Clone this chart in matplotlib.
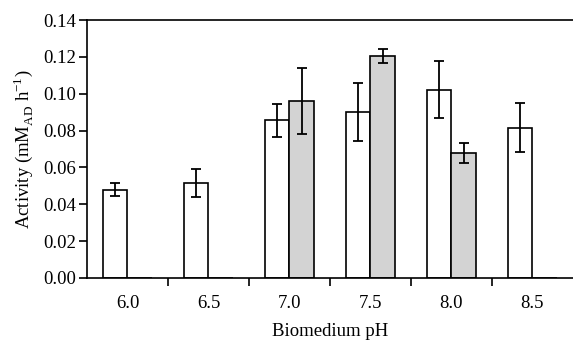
import matplotlib
matplotlib.use("Agg")
import matplotlib.pyplot as plt
import numpy as np

plt.rcParams['font.family'] = 'Liberation Serif'
plt.rcParams['mathtext.fontset'] = 'custom'
plt.rcParams['mathtext.rm'] = 'Liberation Serif'

# pH values and activities (white = series 1, grey = series 2)
ph_labels = ['6.0', '6.5', '7.0', '7.5', '8.0', '8.5']
white_vals = [0.048, 0.0517, 0.0856, 0.0901, 0.1022, 0.0816]
white_err = [0.0033, 0.0075, 0.0090, 0.0155, 0.0155, 0.0133]
grey_vals = [0.0, 0.0, 0.0959, 0.1205, 0.0680, 0.0]
grey_err = [0.0, 0.0, 0.0180, 0.0040, 0.0055, 0.0]

fs = 13.5
x = np.arange(len(ph_labels))
w = 0.3

fig = plt.figure(figsize=(5.73, 3.41), dpi=100)
ax = fig.add_axes([0.1518, 0.1848, 0.8482, 0.7565])

ax.bar(x - w / 2, white_vals, w, color='white', edgecolor='black', linewidth=1.2, zorder=2)
ax.bar(x + w / 2, grey_vals, w, color='#d3d3d3', edgecolor='black', linewidth=1.2, zorder=2)

# error bars only where there is a value
wi = [i for i in range(len(x)) if white_vals[i] > 0]
gi = [i for i in range(len(x)) if grey_vals[i] > 0]
ax.errorbar(x[wi] - w / 2, [white_vals[i] for i in wi], yerr=[white_err[i] for i in wi],
            fmt='none', ecolor='black', elinewidth=1.3, capsize=3.5, capthick=1.3, zorder=3)
ax.errorbar(x[gi] + w / 2, [grey_vals[i] for i in gi], yerr=[grey_err[i] for i in gi],
            fmt='none', ecolor='black', elinewidth=1.3, capsize=3.5, capthick=1.3, zorder=3)

ax.set_xlim(-0.5, 5.5)
ax.set_ylim(0, 0.14)
ax.set_yticks(np.arange(0, 0.141, 0.02))
ax.set_yticklabels(['%.2f' % v for v in np.arange(0, 0.141, 0.02)], fontsize=fs)

# tick marks between categories, labels at the centres
ax.set_xticks(np.arange(0.5, 5, 1))
ax.set_xticklabels([])
ax.set_xticks(x, minor=True)
ax.set_xticklabels(ph_labels, minor=True, fontsize=fs)
ax.tick_params(axis='x', which='minor', length=0, pad=12)
ax.tick_params(axis='x', which='major', length=6, width=1.2, direction='out')
ax.tick_params(axis='y', length=6, width=1.2, direction='out', pad=2)

for s in ['left', 'bottom', 'top']:
    ax.spines[s].set_linewidth(1.2)
ax.spines['right'].set_visible(False)

ax.set_xlabel('Biomedium pH', fontsize=fs, labelpad=8)
ax.set_ylabel('Activity (mM$_\\mathrm{AD}$ h$^\\mathrm{-1}$)', fontsize=fs, labelpad=6)

fig.savefig('out.png', dpi=100)
